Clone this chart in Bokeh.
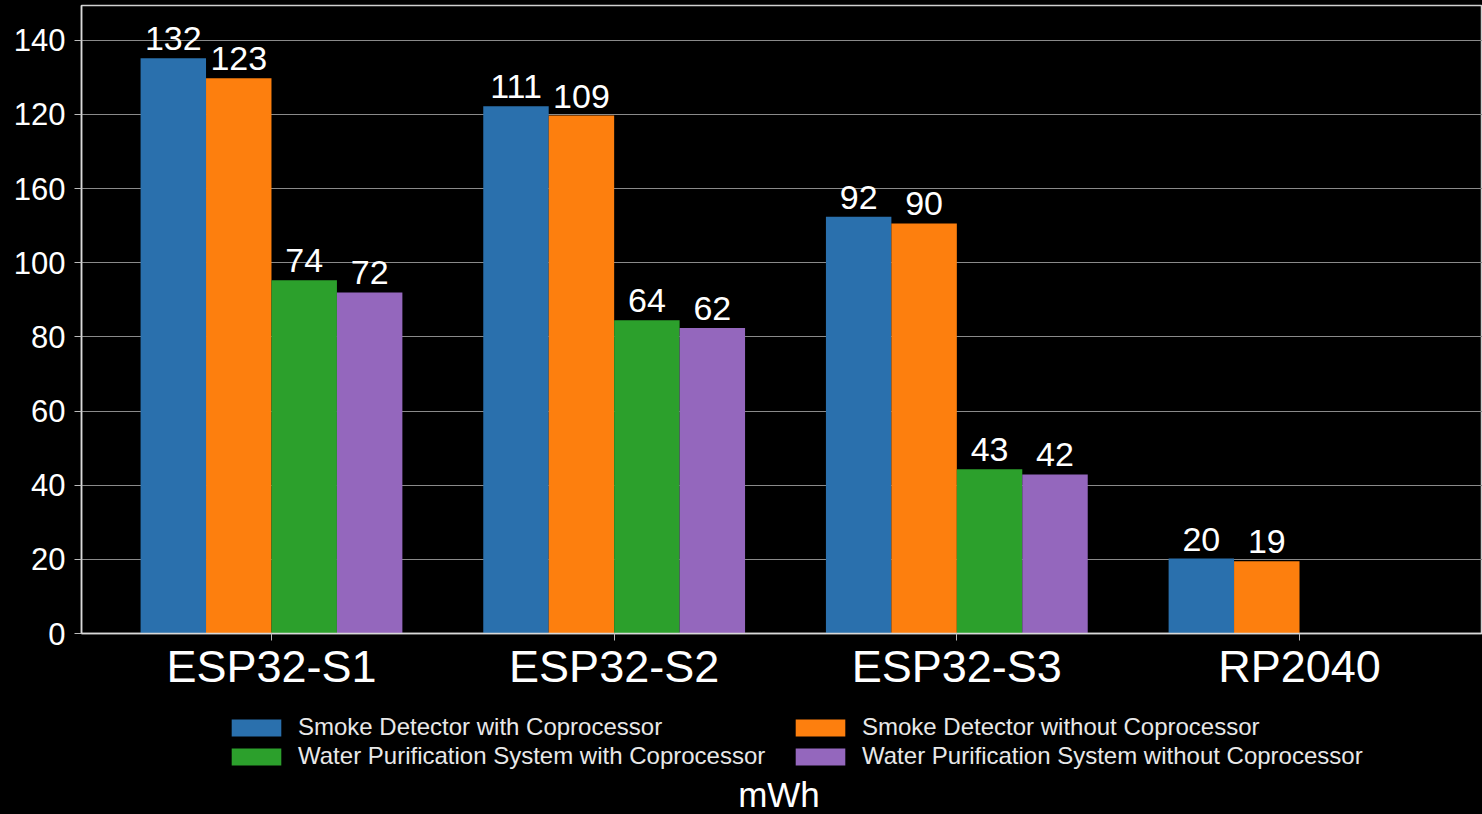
import numpy as np
from bokeh.plotting import figure
from bokeh.layouts import column
from bokeh.models import Range1d, FixedTicker, Legend, LegendItem, Label, ColumnDataSource
from bokeh.core.properties import value
from bokeh.embed import file_html
from bokeh.resources import INLINE

categories = ["ESP32-S1", "ESP32-S2", "ESP32-S3", "RP2040"]
series_names = [
    "Smoke Detector with Coprocessor",
    "Smoke Detector without Coprocessor",
    "Water Purification System with Coprocessor",
    "Water Purification System without Coprocessor",
]
# bar heights as drawn against the axis
smoke_with = [155.2, 142.2, 112.4, 20.2]
smoke_without = [149.8, 139.7, 110.6, 19.5]
water_with = [95.3, 84.5, 44.3, None]
water_without = [92.0, 82.4, 42.9, None]
# value labels printed above the bars
smoke_with_labels = ["132", "111", "92", "20"]
smoke_without_labels = ["123", "109", "90", "19"]
water_with_labels = ["74", "64", "43", None]
water_without_labels = ["72", "62", "42", None]
# y-axis ticks and their printed labels
y_ticks = [0, 20, 40, 60, 80, 100, 120, 140, 160]
y_tick_labels = ["0", "20", "40", "60", "80", "100", "160", "120", "140"]
axis_title = "mWh"

colors = ["#2a70ad", "#fd7f0e", "#2ca02c", "#9467bd"]
FONT = "Liberation Sans"
W = 1482
H_TOP = 695
H_BOT = 814 - H_TOP
LEFT = 81
BLACK = {"background-color": "black"}

p = figure(width=W, height=H_TOP, output_backend="svg", toolbar_location=None,
           x_range=Range1d(-0.5544, 3.534), y_range=Range1d(0, 169.4),
           background_fill_color="black", border_fill_color="black",
           min_border_left=LEFT, min_border_right=0, min_border_top=5, min_border_bottom=62)
p.styles = BLACK
p.outline_line_color = "#d0d0d0"
p.outline_line_width = 1.5

bar_w = 0.191
offsets = [-1.5, -0.5, 0.5, 1.5]
series_vals = [smoke_with, smoke_without, water_with, water_without]
series_labels = [smoke_with_labels, smoke_without_labels, water_with_labels, water_without_labels]

for k, (vals, labs) in enumerate(zip(series_vals, series_labels)):
    xs, tops, texts = [], [], []
    for i, (v, l) in enumerate(zip(vals, labs)):
        if v is None:
            continue
        xs.append(i + offsets[k] * bar_w)
        tops.append(v)
        texts.append(l)
    src = ColumnDataSource(dict(x=xs, top=tops, label=texts))
    p.vbar(x="x", top="top", bottom=0, width=bar_w, source=src,
           fill_color=colors[k], line_color=None)
    p.text(x="x", y="top", text="label", source=src, text_align="center",
           text_baseline="bottom", y_offset=-8, text_color="white",
           text_font=value(FONT), text_font_size="34px")

p.xaxis.ticker = FixedTicker(ticks=list(range(len(categories))))
p.xaxis.major_label_overrides = {i: c for i, c in enumerate(categories)}
p.xaxis.major_label_text_font = FONT
p.xaxis.major_label_text_font_size = "45px"
p.xaxis.major_label_text_color = "white"
p.xaxis.major_label_standoff = 0
p.xaxis.major_tick_out = 7
p.xaxis.major_tick_in = 0
p.xaxis.minor_tick_line_color = None
p.xaxis.major_tick_line_color = "#bbbbbb"
p.xaxis.axis_line_color = "#d9d9d9"
p.xaxis.axis_line_width = 1.5

p.yaxis.ticker = FixedTicker(ticks=y_ticks)
p.yaxis.major_label_overrides = {t: l for t, l in zip(y_ticks, y_tick_labels)}
p.yaxis.major_label_text_font = FONT
p.yaxis.major_label_text_font_size = "31px"
p.yaxis.major_label_text_color = "white"
p.yaxis.major_label_standoff = 9
p.yaxis.major_tick_out = 7
p.yaxis.major_tick_in = 0
p.yaxis.minor_tick_line_color = None
p.yaxis.major_tick_line_color = "#bbbbbb"
p.yaxis.axis_line_color = "#d9d9d9"
p.yaxis.axis_line_width = 1.5

p.xgrid.visible = False
p.ygrid.grid_line_color = "#8a8a8a"
p.ygrid.grid_line_width = 1

# lower strip: legend and unit title (coordinates are page pixels)
p2 = figure(width=W, height=H_BOT, output_backend="svg", toolbar_location=None,
            x_range=Range1d(LEFT, W), y_range=Range1d(814, H_TOP),
            x_axis_location=None, y_axis_location=None,
            background_fill_color="black", border_fill_color="black",
            min_border_left=LEFT, min_border_right=0, min_border_top=0, min_border_bottom=0)
p2.styles = BLACK
p2.outline_line_color = None
p2.xgrid.visible = False
p2.ygrid.visible = False

items = []
for k in range(len(series_names)):
    r = p2.vbar(x=np.array([np.nan]), top=np.array([np.nan]), width=1,
                fill_color=colors[k], line_color=None)
    items.append(LegendItem(label=series_names[k], renderers=[r]))

legend_style = dict(background_fill_color="black", background_fill_alpha=1,
                    border_line_color=None, label_text_color="#e8e8e8",
                    label_text_font=FONT, label_text_font_size="24px",
                    glyph_width=62, glyph_height=21, label_standoff=11,
                    label_height=26, spacing=1, padding=0, margin=0)
legend_a = Legend(items=[items[0], items[2]], location=(144, 44), **legend_style)
legend_b = Legend(items=[items[1], items[3]], location=(708, 44), **legend_style)
p2.add_layout(legend_a, "center")
p2.add_layout(legend_b, "center")

p2.add_layout(Label(x=778.5, y=813, text=axis_title, text_align="center",
                    text_baseline="bottom", text_font=FONT, text_font_size="35px",
                    text_color="white"))

layout = column(p, p2, spacing=0)
layout.styles = BLACK
open("out.html", "w").write(file_html(layout, INLINE))
